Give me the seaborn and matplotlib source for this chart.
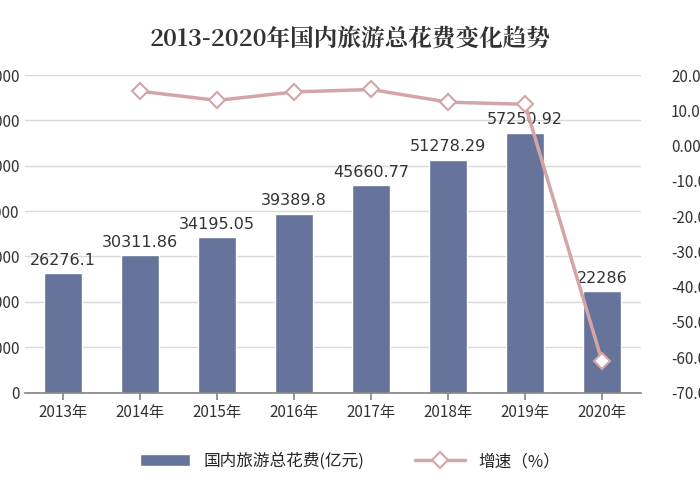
import matplotlib
matplotlib.use("Agg")
import matplotlib.pyplot as plt
import seaborn as sns
import pandas as pd
from matplotlib.ticker import FuncFormatter

years = ["2013年","2014年","2015年","2016年","2017年","2018年","2019年","2020年"]
spend = [26276.1, 30311.86, 34195.05, 39389.8, 45660.77, 51278.29, 57250.92, 22286]
growth = [None, 15.4, 12.8, 15.2, 15.9, 12.3, 11.7, -61.1]
spend_labels = ["26276.1","30311.86","34195.05","39389.8","45660.77","51278.29","57250.92","22286"]

sns.set_theme(style="white")
plt.rcParams['font.family'] = ['Noto Sans CJK SC', 'DejaVu Sans']

fig = plt.figure(figsize=(7,5), dpi=100)
ax = fig.add_axes([0.035, 0.215, 0.88, 0.635])
df = pd.DataFrame({"year": years, "spend": spend})
sns.barplot(data=df, x="year", y="spend", color="#66739a", width=0.5, ax=ax, saturation=1, label="国内旅游总花费(亿元)")
ax.set_ylim(0, 70000)
ax.set_yticks(range(0, 70001, 10000))
ax.yaxis.grid(True, color="#d9d9d9", lw=1)
ax.set_axisbelow(True)
for s in ["top","right","left"]:
    ax.spines[s].set_visible(False)
ax.spines["bottom"].set_color("#888888")
ax.set_xlabel(""); ax.set_ylabel("")
ax.tick_params(axis="both", labelsize=11, colors="#333333", length=0)
ax.tick_params(axis="x", bottom=True, length=5, color="#888888")
for i, (v, t) in enumerate(zip(spend, spend_labels)):
    ax.text(i, v + 1200, t, ha="center", va="bottom", fontsize=11.5, color="#333333", family="DejaVu Sans")

ax2 = ax.twinx()
gdf = pd.DataFrame({"x": list(range(8)), "g": growth}).dropna()
sns.lineplot(data=gdf, x="x", y="g", ax=ax2, color="#d4a5a6", lw=2.5, marker="D",
             markersize=8, markerfacecolor="white", markeredgecolor="#d4a5a6", markeredgewidth=1.5, label="增速（%）")
ax2.set_ylim(-70, 20)
ax2.set_yticks(range(-70, 21, 10))
ax2.yaxis.set_major_formatter(FuncFormatter(lambda v, p: f"{v:.2f}%"))
ax2.tick_params(axis="y", labelsize=11, colors="#333333", length=0, pad=22)
for s in ax2.spines.values():
    s.set_visible(False)
ax2.set_xlabel(""); ax2.set_ylabel("")
h1, l1 = ax.get_legend_handles_labels()
h2, l2 = ax2.get_legend_handles_labels()
ax.legend_.remove()
ax2.legend_.remove()
ax.set_xlim(-0.5, 7.5)

fig.legend(h1 + h2, l1 + l2, loc="lower center", bbox_to_anchor=(0.5, 0.03), ncol=2,
           frameon=False, fontsize=12, handlelength=3, columnspacing=3)
fig.text(0.5, 0.922, "2013-2020年国内旅游总花费变化趋势", ha="center", va="center",
         fontsize=17, fontweight="bold", color="#333333", family=["Noto Serif CJK SC", "Noto Sans CJK SC"])
fig.savefig("out.png")
